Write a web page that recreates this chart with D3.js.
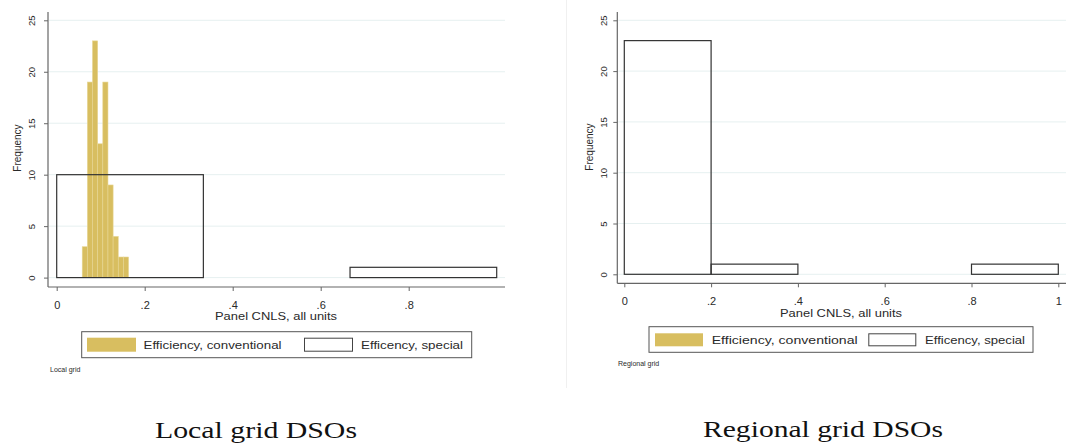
<!DOCTYPE html>
<html>
<head>
<meta charset="utf-8">
<script src="https://cdn.jsdelivr.net/npm/d3@7"></script>
<style>
  html, body { margin: 0; padding: 0; background: #fff; }
  svg { display: block; }
  text { font-family: "Liberation Sans", Arial, sans-serif; fill: #2a2a2a; }
  .caption { font-family: "Liberation Serif", "Times New Roman", serif; fill: #111; }
</style>
</head>
<body>
<svg id="chart" width="1081" height="446"></svg>
<script>
// Histogram data (frequencies per bin)
const localConvFreq = [3, 19, 23, 13, 19, 9, 4, 2, 2];
const localConvBinStart = 0.058;
const localConvBinWidth = 0.0117;
const localSpecialFreq = [10, 0, 1];
const localSpecialBinWidth = 1 / 3;
const regionalConvFreq = [];
const regionalSpecialFreq = [23, 1, 0, 0, 1];
const regionalSpecialBinWidth = 0.2;

const yTicks = [0, 5, 10, 15, 20, 25];
const xTicksLocal = [0, 0.2, 0.4, 0.6, 0.8];
const xTicksRegional = [0, 0.2, 0.4, 0.6, 0.8, 1];
const legendLabels = ["Efficiency, conventional", "Efficency, special"];
const xTitle = "Panel CNLS, all units";
const yTitle = "Frequency";

const GOLD = "#d8be60";
const GOLD_EDGE = "#e7d693";
const AXIS = "#666";

const svg = d3.select("#chart");

function fmtTick(v) {
  if (v === 0) return "0";
  if (v === 1) return "1";
  return d3.format(".1f")(v).replace(/^0/, "");
}

function bins(freq, start, width) {
  return freq.map((f, i) => ({ x0: start + i * width, x1: start + (i + 1) * width, f }));
}

function panel(cfg) {
  const g = svg.append("g");
  const x = d3.scaleLinear().domain([0, 1]).range(cfg.xRange);
  const y = d3.scaleLinear().domain([0, 25]).range(cfg.yRange);

  // horizontal gridlines
  g.append("g").selectAll("line").data(yTicks).join("line")
    .attr("x1", cfg.axisX + 1).attr("x2", cfg.axisXEnd)
    .attr("y1", d => y(d)).attr("y2", d => y(d))
    .attr("stroke", "#e6f0f0").attr("stroke-width", 1);

  // conventional bars
  g.append("g").selectAll("rect").data(cfg.conv).join("rect")
    .attr("x", d => x(d.x0)).attr("width", d => x(d.x1) - x(d.x0))
    .attr("y", d => y(d.f)).attr("height", d => y(0) - y(d.f))
    .attr("fill", GOLD).attr("stroke", GOLD_EDGE).attr("stroke-width", 0.6);

  // special bars (hollow)
  g.append("g").selectAll("rect").data(cfg.special.filter(d => d.f > 0)).join("rect")
    .attr("x", d => x(d.x0)).attr("width", d => x(d.x1) - x(d.x0))
    .attr("y", d => y(d.f)).attr("height", d => y(0) - y(d.f))
    .attr("fill", "none").attr("stroke", "#333").attr("stroke-width", 1.2);

  // y axis
  const yAxis = d3.axisLeft(y).tickValues(yTicks).tickSize(4).tickFormat(d3.format("d"));
  const ya = g.append("g").attr("transform", `translate(${cfg.axisX},0)`).call(yAxis);
  ya.select(".domain").remove();
  ya.selectAll(".tick line").attr("stroke", AXIS);
  ya.selectAll(".tick text")
    .attr("x", 0).attr("dy", null)
    .attr("transform", `translate(${cfg.yLabelX - cfg.axisX},0) rotate(-90)`)
    .attr("text-anchor", "middle").attr("dominant-baseline", "central")
    .style("font-size", "9.5px").style("font-family", "Liberation Sans, Arial, sans-serif")
    .attr("fill", "#333");
  g.append("line").attr("x1", cfg.axisX).attr("x2", cfg.axisX)
    .attr("y1", cfg.axisTop).attr("y2", cfg.axisY)
    .attr("stroke", AXIS).attr("stroke-width", 1.2);

  // x axis
  const xAxis = d3.axisBottom(x).tickValues(cfg.xTicks).tickSize(4).tickFormat(fmtTick);
  const xa = g.append("g").attr("transform", `translate(0,${cfg.axisY})`).call(xAxis);
  xa.select(".domain").remove();
  xa.selectAll(".tick line").attr("stroke", AXIS);
  xa.selectAll(".tick text")
    .attr("y", cfg.xLabelBase - cfg.axisY).attr("dy", null)
    .style("font-size", "11px").style("font-family", "Liberation Sans, Arial, sans-serif")
    .attr("fill", "#333");
  g.append("line").attr("x1", cfg.axisX).attr("x2", cfg.axisXEnd)
    .attr("y1", cfg.axisY).attr("y2", cfg.axisY)
    .attr("stroke", AXIS).attr("stroke-width", 1.2);

  // axis titles
  g.append("text").attr("transform", `translate(${cfg.yTitleX},${cfg.yTitleY}) rotate(-90)`)
    .attr("text-anchor", "middle").attr("dominant-baseline", "central")
    .style("font-size", "10px").text(yTitle);
  g.append("text").attr("x", cfg.xTitleX).attr("y", cfg.xTitleBase)
    .attr("text-anchor", "middle").style("font-size", "11px")
    .attr("textLength", 122).attr("lengthAdjust", "spacingAndGlyphs").text(xTitle);

  // legend
  const L = cfg.legend;
  g.append("rect").attr("x", L.x).attr("y", L.y).attr("width", L.w).attr("height", L.h)
    .attr("fill", "#fff").attr("stroke", "#555").attr("stroke-width", 1);
  g.append("rect").attr("x", L.s1x).attr("y", L.sy).attr("width", L.sw).attr("height", L.sh)
    .attr("fill", GOLD);
  g.append("rect").attr("x", L.s2x + 0.5).attr("y", L.sy + 0.5).attr("width", L.sw - 1).attr("height", L.sh - 1)
    .attr("fill", "#fff").attr("stroke", "#444").attr("stroke-width", 1);
  g.append("text").attr("x", L.t1x).attr("y", L.ty).style("font-size", "11px")
    .attr("textLength", L.t1w).attr("lengthAdjust", "spacingAndGlyphs").text(legendLabels[0]);
  g.append("text").attr("x", L.t2x).attr("y", L.ty).style("font-size", "11px")
    .attr("textLength", L.t2w).attr("lengthAdjust", "spacingAndGlyphs").text(legendLabels[1]);

  // note under the plot
  g.append("text").attr("x", cfg.noteX).attr("y", cfg.noteY)
    .style("font-size", "7px").attr("fill", "#444").text(cfg.note);

  // caption
  g.append("text").attr("class", "caption").attr("x", cfg.capX).attr("y", cfg.capY)
    .attr("text-anchor", "middle").style("font-size", "24px")
    .attr("textLength", cfg.capW).attr("lengthAdjust", "spacingAndGlyphs").text(cfg.caption);
}

// faint frame edge of the right-hand graph
svg.append("line").attr("x1", 566.5).attr("x2", 566.5).attr("y1", 0).attr("y2", 388)
  .attr("stroke", "#f0f0f0").attr("stroke-width", 1);

panel({
  xRange: [56.7, 496.7], yRange: [277.6, 20.3],
  axisX: 48, axisY: 287, axisTop: 12, axisXEnd: 505,
  yLabelX: 31.5, xLabelBase: 309,
  xTicks: xTicksLocal,
  conv: bins(localConvFreq, localConvBinStart, localConvBinWidth),
  special: bins(localSpecialFreq, 0, localSpecialBinWidth),
  yTitleX: 17.5, yTitleY: 148,
  xTitleX: 276, xTitleBase: 320,
  legend: { x: 81.7, y: 331.7, w: 390, h: 26, s1x: 87, s2x: 304, sy: 337.7, sw: 49, sh: 14,
            t1x: 143.5, t2x: 361, ty: 349, t1w: 138, t2w: 102 },
  note: "Local grid", noteX: 50, noteY: 372,
  caption: "Local grid DSOs", capX: 256, capY: 438, capW: 202
});

panel({
  xRange: [624.3, 1058.3], yRange: [274.3, 20.3],
  axisX: 617.3, axisY: 283.3, axisTop: 12, axisXEnd: 1066,
  yLabelX: 603, xLabelBase: 305,
  xTicks: xTicksRegional,
  conv: regionalConvFreq,
  special: bins(regionalSpecialFreq, 0, regionalSpecialBinWidth),
  yTitleX: 589, yTitleY: 147,
  xTitleX: 841, xTitleBase: 316.5,
  legend: { x: 649, y: 326.7, w: 384, h: 25.6, s1x: 655, s2x: 868.3, sy: 333.3, sw: 48, sh: 13,
            t1x: 711.7, t2x: 925, ty: 343.5, t1w: 146, t2w: 100 },
  note: "Regional grid", noteX: 618, noteY: 366,
  caption: "Regional grid DSOs", capX: 823, capY: 437, capW: 240
});
</script>
</body>
</html>
